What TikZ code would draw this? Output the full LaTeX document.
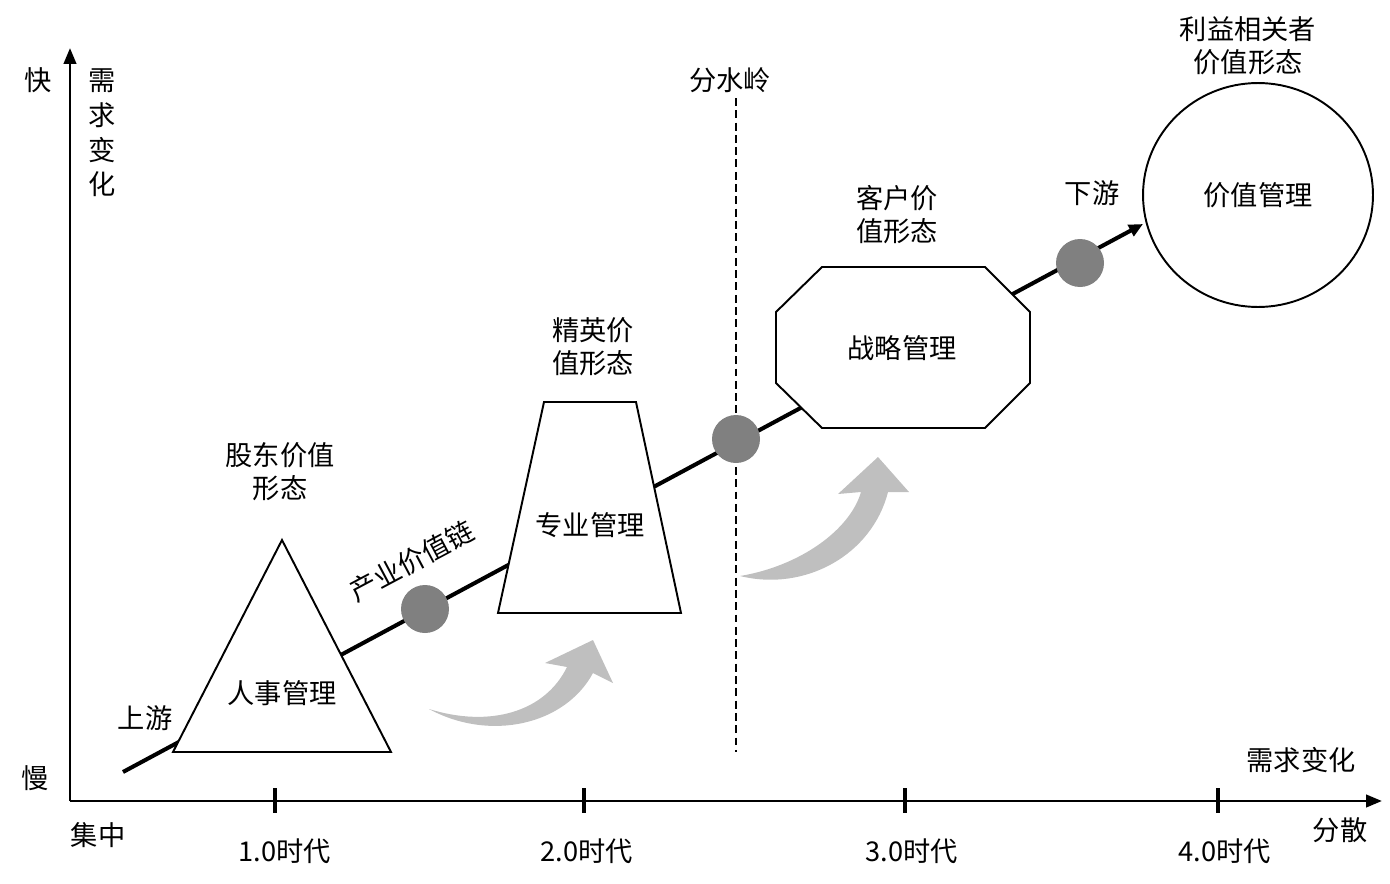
\documentclass[tikz,border=0pt]{standalone}
\usepackage{fontspec}
\setmainfont{Noto Sans CJK SC}
\usetikzlibrary{shapes.geometric,arrows.meta}

\begin{document}
\begin{tikzpicture}[x=0.02cm, y=-0.02cm,
    every node/.style={font=\fontsize{15.5}{18.7}\selectfont, align=center, inner sep=1pt},
    axis/.style={line width=1.6pt, -{Triangle[length=9pt,width=7pt]}},
    tick/.style={line width=2.2pt},
    flow/.style={line width=2.3pt, -{Triangle[length=8pt,width=7pt]}},
    box/.style={draw, line width=1.1pt, fill=white},
    dot/.style={circle, fill=black!50, minimum size=0.96cm, inner sep=0},
    sweep/.style={fill=black!25}]
    \useasboundingbox (0,0) rectangle (1390,883);

    % axes
    \coordinate (o) at (70,801);
    \coordinate (ytop) at (70,48);
    \coordinate (xend) at (1382,801);
    \draw[axis] (o) -- (ytop);
    \draw[axis] (o) -- (xend);
    \foreach \x in {275,584,905,1218} \draw[tick] (\x,788) -- (\x,813);

    \node (fast) at (38,80) {快};
    \node (slow) at (35,778) {慢};
    \node[font=\fontsize{15.5}{19.8}\selectfont] (ylab) at (102,133) {需\\求\\变\\化};
    \node (xlab) at (1301,760) {需求变化};
    \node (focus) at (98,835) {集中};
    \node (spread) at (1340,830) {分散};
    \node (era1) at (285,851) {1.0时代};
    \node (era2) at (587,851) {2.0时代};
    \node (era3) at (912,851) {3.0时代};
    \node (era4) at (1225,851) {4.0时代};

    % watershed
    \coordinate (wtop) at (736,98);
    \coordinate (wbot) at (736,752);
    \draw[line width=1pt, dash pattern=on 4.5pt off 2.5pt] (wtop) -- (wbot);
    \node (water) at (730,80) {分水岭};

    % value chain
    \coordinate (up) at (123,772);
    \coordinate (down) at (1143,224);
    \draw[flow] (up) -- (down);
    \node[rotate=28] (chain) at (412,561) {产业价值链};
    \node (uplab) at (145,718) {上游};
    \node (downlab) at (1092,193) {下游};

    % value forms
    \draw[box] (282,540) -- (391,752) -- (173,752) -- cycle;
    \node (hr) at (282,693) {人事管理};
    \node (holder) at (280,472) {股东价值\\形态};

    \draw[box] (544,402) -- (636,402) -- (681,613) -- (498,613) -- cycle;
    \node (pro) at (590,525) {专业管理};
    \node (elite) at (593,347) {精英价\\值形态};

    \draw[box] (822,267) -- (985,267) -- (1030,312) -- (1030,383) -- (985,428)
        -- (822,428) -- (776,383) -- (776,312) -- cycle;
    \node (strat) at (902,348) {战略管理};
    \node (client) at (897,215) {客户价\\值形态};

    \node[box, ellipse, minimum width=4.6cm, minimum height=4.48cm, inner sep=0] (vm) at (1258,195) {价值管理};
    \node (stake) at (1248,46) {利益相关者\\价值形态};

    % turning points
    \node[dot] (p1) at (425,609) {};
    \node[dot] (p2) at (736,439) {};
    \node[dot] (p3) at (1080,263) {};

    % upgrade arrows
    \fill[sweep] (429,709) .. controls (490,728) and (545,712) .. (567,667) -- (545,663)
        -- (593,640) -- (613,683) -- (593,673) .. controls (565,725) and (490,742) .. cycle;
    \fill[sweep] (740,576) .. controls (800,566) and (850,530) .. (861,492) -- (838,494)
        -- (878,457) -- (909,492) -- (888,492) .. controls (872,555) and (805,592) .. cycle;
\end{tikzpicture}
\end{document}
